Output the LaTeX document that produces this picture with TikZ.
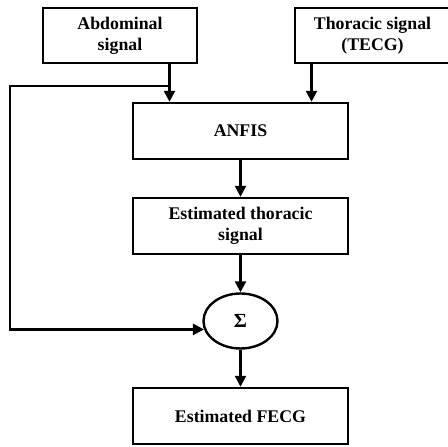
\documentclass[tikz,border=0pt]{standalone}
\usepackage{fontspec}
\setmainfont{Liberation Serif}
\usetikzlibrary{arrows.meta,shapes.geometric,positioning}

\begin{document}
\begin{tikzpicture}[
    x=1pt, y=1pt,
    node distance=95pt,
    box/.style={rectangle, draw, line width=2.4pt, align=center,
                minimum width=215pt, minimum height=56pt, inner sep=2pt,
                font=\fontsize{17.8}{21}\selectfont\bfseries},
    inbox/.style={box, minimum width=154pt, minimum height=55pt},
    sumnode/.style={ellipse, draw, line width=2.4pt, minimum width=74pt,
                minimum height=55pt, inner sep=0pt,
                font=\fontsize{20}{20}\selectfont\bfseries},
    arrow/.style={-{Triangle[length=11pt, width=11pt]}, line width=2.4pt}
]
\useasboundingbox (0,0) rectangle (448,447);

\node (ab) [inbox] at (120,411.5) {Abdominal\\signal};
\node (th) [inbox, minimum width=155pt] at (372.5,411.5) {Thoracic signal\\(TECG)};
\node (an) [box] at (240.5,316) {ANFIS};
\node (et) [box, below of=an] {Estimated thoracic\\signal};
\node (sm) [sumnode, below of=et] {Σ};
\node (fe) [box, below of=sm] {Estimated FECG};

\coordinate (inA) at ([xshift=-71pt]an.north);
\coordinate (inT) at ([xshift=71pt]an.north);
\coordinate (tap) at ([yshift=-22pt]ab.south -| inA);
\coordinate (fbx) at (10,0);

\draw [arrow] (ab.south -| inA) -- (inA);
\draw [arrow] (th.south -| inT) -- (inT);
\draw [arrow] (an) -- (et);
\draw [arrow] (et) -- (sm);
\draw [arrow] (sm) -- (fe);

% feedback of the abdominal signal to the sum
\draw [arrow] (tap) -- (tap -| fbx) |- (sm.193);

\end{tikzpicture}
\end{document}
